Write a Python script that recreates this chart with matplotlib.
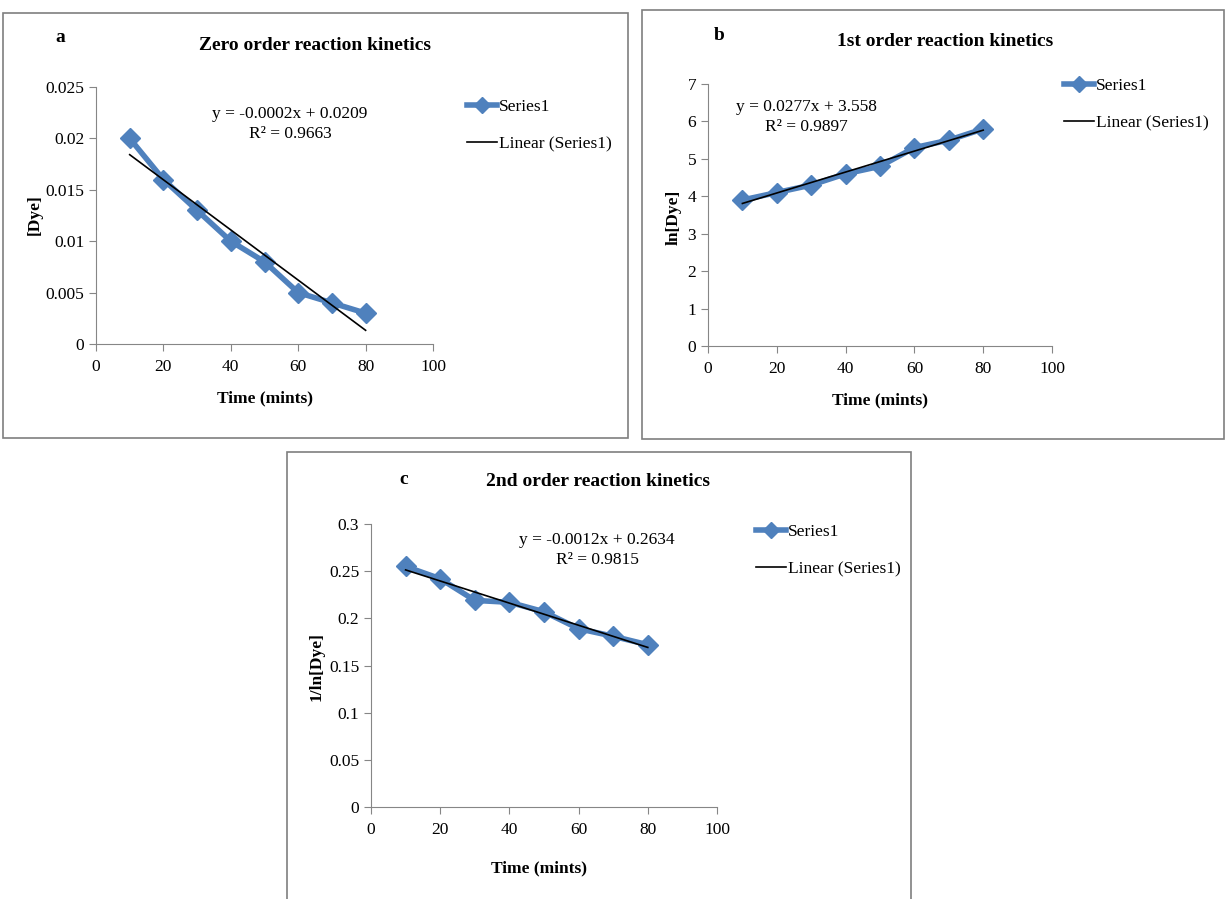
import numpy as np
import matplotlib
matplotlib.use("Agg")
import matplotlib.pyplot as plt
from matplotlib.patches import Rectangle

plt.rcParams['font.family'] = ['Liberation Serif', 'DejaVu Serif']

# data
time_min = [10, 20, 30, 40, 50, 60, 70, 80]
dye_conc = [0.020, 0.016, 0.013, 0.010, 0.008, 0.005, 0.004, 0.003]
ln_dye = [3.9, 4.1, 4.3, 4.6, 4.8, 5.3, 5.5, 5.8]
inv_ln_dye = [0.255, 0.242, 0.219, 0.217, 0.207, 0.189, 0.181, 0.172]

equations = ["y = -0.0002x + 0.0209\nR² = 0.9663",
             "y = 0.0277x + 3.558\nR² = 0.9897",
             "y = -0.0012x + 0.2634\nR² = 0.9815"]
titles = ["Zero order reaction kinetics", "1st order reaction kinetics",
          "2nd order reaction kinetics"]
letters = ["a", "b", "c"]
ylabels = ["[Dye]", "ln[Dye]", "1/ln[Dye]"]
yticks = [[0, 0.005, 0.01, 0.015, 0.02, 0.025],
          [0, 1, 2, 3, 4, 5, 6, 7],
          [0, 0.05, 0.1, 0.15, 0.2, 0.25, 0.3]]
yticklabels = [["0", "0.005", "0.01", "0.015", "0.02", "0.025"],
               ["0", "1", "2", "3", "4", "5", "6", "7"],
               ["0", "0.05", "0.1", "0.15", "0.2", "0.25", "0.3"]]

W, H = 1225, 899
BLUE = "#4F81BD"
GRAY = "#868686"

fig = plt.figure(figsize=(W / 100, H / 100), dpi=100)


def fx(px):
    return px / W


def fy(py):
    return 1 - py / H


# panel layout in pixels: box, axes (left, right, top, bottom), text spots
panels = [
    dict(box=(3, 13, 628, 438), ax=(96, 433, 87, 344), letter=(60, 37),
         title=(315, 45), ylab=(35, 215), xlab=(265, 398), eq=(290, 124),
         leg=(467, 99)),
    dict(box=(642, 10, 1224, 439), ax=(708, 1052, 84, 346), letter=(719, 35),
         title=(945, 42), ylab=(674, 217), xlab=(880, 400), eq=(806, 117),
         leg=(1064, 78)),
    dict(box=(287, 452, 911, 905), ax=(371, 717, 524, 807), letter=(404, 480),
         title=(598, 482), ylab=(317, 667), xlab=(539, 868), eq=(597, 550),
         leg=(756, 524)),
]

ydata = [dye_conc, ln_dye, inv_ln_dye]

for i, p in enumerate(panels):
    x0, y0, x1, y1 = p["box"]
    fig.patches.append(Rectangle((fx(x0), fy(y1)), fx(x1 - x0), (y1 - y0) / H,
                                 transform=fig.transFigure, fill=False,
                                 edgecolor="#7f7f7f", linewidth=1.2))
    l, r, t, b = p["ax"]
    ax = fig.add_axes([fx(l), fy(b), fx(r - l), (b - t) / H])
    y = ydata[i]
    ax.plot(time_min, y, color=BLUE, linewidth=4, marker="D",
            markersize=10, label="Series1")
    coef = np.polyfit(time_min, y, 1)
    xs = np.array([time_min[0], time_min[-1]])
    ax.plot(xs, np.polyval(coef, xs), color="black", linewidth=1.2,
            label="Linear (Series1)")
    ax.set_xlim(0, 100)
    ax.set_ylim(yticks[i][0], yticks[i][-1])
    ax.set_xticks([0, 20, 40, 60, 80, 100])
    ax.set_yticks(yticks[i])
    ax.set_yticklabels(yticklabels[i])
    for s in ["top", "right"]:
        ax.spines[s].set_visible(False)
    for s in ["left", "bottom"]:
        ax.spines[s].set_color(GRAY)
    ax.tick_params(colors=GRAY, labelcolor="black", labelsize=12.5,
                   length=5, direction="out")
    ax.tick_params(axis="x", pad=6)
    ax.set_facecolor("none")

    fig.text(fx(p["letter"][0]), fy(p["letter"][1]), letters[i],
             fontsize=14, fontweight="bold", ha="center", va="center")
    fig.text(fx(p["title"][0]), fy(p["title"][1]), titles[i],
             fontsize=14, fontweight="bold", ha="center", va="center")
    fig.text(fx(p["ylab"][0]), fy(p["ylab"][1]), ylabels[i],
             fontsize=12.5, fontweight="bold", ha="center", va="center",
             rotation=90)
    fig.text(fx(p["xlab"][0]), fy(p["xlab"][1]), "Time (mints)",
             fontsize=12.5, fontweight="bold", ha="center", va="center")
    fig.text(fx(p["eq"][0]), fy(p["eq"][1]), equations[i],
             fontsize=12.5, ha="center", va="center", linespacing=1.4)
    ax.legend(loc="upper left", bbox_to_anchor=(fx(p["leg"][0]), fy(p["leg"][1])),
              bbox_transform=fig.transFigure, frameon=False, fontsize=12.5,
              handlelength=1.7, handletextpad=0.15, labelspacing=1.2,
              borderaxespad=0, borderpad=0, markerscale=0.8)

fig.savefig("out.png", dpi=100)
